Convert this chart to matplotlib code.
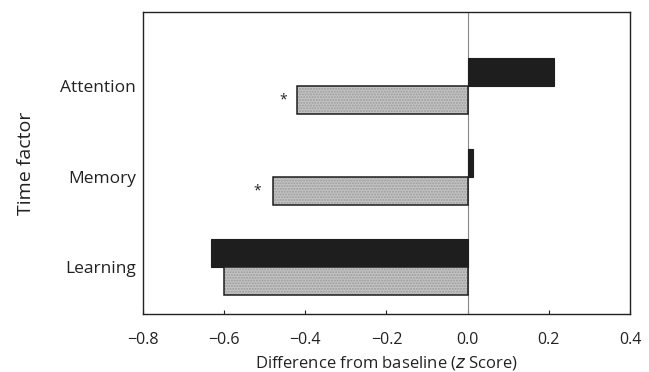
import matplotlib
matplotlib.use("Agg")
import matplotlib.pyplot as plt
import numpy as np

plt.rcParams['font.family'] = ['Open Sans', 'DejaVu Sans']

categories = ["Learning", "Memory", "Attention"]
black_values = [-0.632, 0.012, 0.212]
gray_values = [-0.60, -0.48, -0.42]
star_x = [None, -0.518, -0.454]
xticks = [-0.8, -0.6, -0.4, -0.2, 0.0, 0.2, 0.4]
xtick_labels = ["\u22120.8", "\u22120.6", "\u22120.4", "\u22120.2", "0.0", "0.2", "0.4"]

fig = plt.figure(figsize=(6.49, 3.72), dpi=100)
ax = fig.add_axes([0.2203, 0.156, 0.7504, 0.8117])

y = np.arange(len(categories))
h = 0.31
ax.barh(y + h / 2, black_values, height=h, color="#1e1e1e", edgecolor="#1e1e1e", linewidth=0.8, zorder=3)
ax.barh(y - h / 2, gray_values, height=h, color="#c4c4c4", edgecolor="#9a9a9a", hatch="......", linewidth=0, zorder=3)
ax.barh(y - h / 2, gray_values, height=h, fill=False, edgecolor="#1e1e1e", linewidth=1.1, zorder=4)

for yi, sx in zip(y, star_x):
    if sx is not None:
        ax.text(sx, yi - h / 2, "*", ha="center", va="center", fontsize=10, color="#222222")

ax.axvline(0, color="#888888", linewidth=0.8, zorder=2)

ax.set_xlim(-0.8, 0.4)
ax.set_ylim(-0.52, 2.82)
ax.set_xticks(xticks)
ax.set_xticklabels(xtick_labels, fontsize=11.5)
ax.set_yticks(y)
ax.set_yticklabels(categories, fontsize=12.5)
ax.tick_params(axis="x", direction="in", length=3, pad=13, colors="#222222")
ax.tick_params(axis="y", length=0, pad=5, colors="#222222")
for s in ax.spines.values():
    s.set_color("#222222")
    s.set_linewidth(1.0)

ax.set_xlabel("Difference from baseline ($\\it{z}$ Score)", fontsize=12, color="#222222", labelpad=4)
ax.set_ylabel("Time factor", fontsize=14, color="#222222", labelpad=18)

fig.savefig("out.png", dpi=100)
